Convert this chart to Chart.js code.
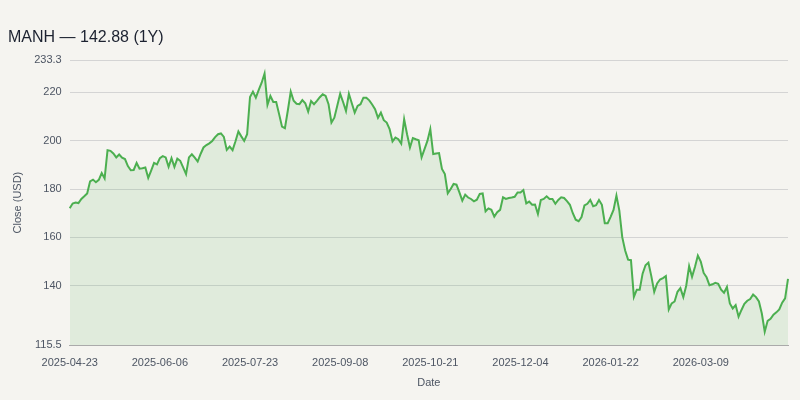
<!DOCTYPE html>
<html>
<head>
<meta charset="utf-8">
<script src="https://cdn.jsdelivr.net/npm/chart.js@4.4.1/dist/chart.umd.min.js"></script>
<style>
  html, body { margin: 0; padding: 0; background: #f5f4f0; }
  #wrap { width: 800px; height: 400px; position: relative; }
</style>
</head>
<body>
<div id="wrap"><canvas id="c" width="800" height="400"></canvas></div>
<script>
const ticker = "MANH";
const lastClose = 142.88;
const periodLabel = "1Y";

const dates = [
"2025-04-23","2025-04-24","2025-04-25","2025-04-28","2025-04-29","2025-04-30",
"2025-05-01","2025-05-02","2025-05-05","2025-05-06","2025-05-07","2025-05-08","2025-05-09",
"2025-05-12","2025-05-13","2025-05-14","2025-05-15","2025-05-16","2025-05-19","2025-05-20",
"2025-05-21","2025-05-22","2025-05-23","2025-05-27","2025-05-28","2025-05-29","2025-05-30",
"2025-06-02","2025-06-03","2025-06-04","2025-06-05","2025-06-06",
"2025-06-09","2025-06-10","2025-06-11","2025-06-12","2025-06-13","2025-06-16","2025-06-17",
"2025-06-18","2025-06-20","2025-06-23","2025-06-24","2025-06-25","2025-06-26","2025-06-27","2025-06-30",
"2025-07-01","2025-07-02","2025-07-03","2025-07-07","2025-07-08","2025-07-09","2025-07-10",
"2025-07-11","2025-07-14","2025-07-15","2025-07-16","2025-07-17","2025-07-18","2025-07-21",
"2025-07-22","2025-07-23",
"2025-07-24","2025-07-25","2025-07-28","2025-07-29","2025-07-30","2025-07-31",
"2025-08-01","2025-08-04","2025-08-05","2025-08-06","2025-08-07","2025-08-08","2025-08-11",
"2025-08-12","2025-08-13","2025-08-14","2025-08-15","2025-08-18","2025-08-19","2025-08-20",
"2025-08-21","2025-08-22","2025-08-25","2025-08-26","2025-08-27","2025-08-28",
"2025-09-02","2025-09-03","2025-09-04","2025-09-05","2025-09-08",
"2025-09-09","2025-09-10","2025-09-11","2025-09-12","2025-09-15","2025-09-16","2025-09-17",
"2025-09-18","2025-09-19","2025-09-22","2025-09-23","2025-09-24","2025-09-25","2025-09-26",
"2025-09-29","2025-09-30","2025-10-01","2025-10-02","2025-10-03","2025-10-06","2025-10-07",
"2025-10-08","2025-10-09","2025-10-10","2025-10-13","2025-10-14","2025-10-15","2025-10-16",
"2025-10-17","2025-10-20","2025-10-21",
"2025-10-22","2025-10-23","2025-10-24","2025-10-27","2025-10-28","2025-10-29","2025-10-30",
"2025-10-31","2025-11-03","2025-11-04","2025-11-05","2025-11-06","2025-11-07","2025-11-10",
"2025-11-11","2025-11-12","2025-11-13","2025-11-14","2025-11-17","2025-11-18","2025-11-19",
"2025-11-20","2025-11-21","2025-11-24","2025-11-25","2025-11-26","2025-11-28","2025-12-01",
"2025-12-02","2025-12-03","2025-12-04",
"2025-12-05","2025-12-08","2025-12-09","2025-12-10","2025-12-11","2025-12-12","2025-12-15",
"2025-12-16","2025-12-17","2025-12-18","2025-12-19","2025-12-22","2025-12-23","2025-12-24",
"2025-12-29","2025-12-30","2025-12-31","2026-01-02","2026-01-05","2026-01-06","2026-01-07",
"2026-01-08","2026-01-09","2026-01-12","2026-01-13","2026-01-14","2026-01-15","2026-01-16",
"2026-01-20","2026-01-21","2026-01-22",
"2026-01-23","2026-01-26","2026-01-27","2026-01-28","2026-01-29","2026-01-30","2026-02-02",
"2026-02-03","2026-02-04","2026-02-05","2026-02-06","2026-02-09","2026-02-10","2026-02-11",
"2026-02-12","2026-02-13","2026-02-17","2026-02-18","2026-02-19","2026-02-20","2026-02-23",
"2026-02-24","2026-02-25","2026-02-26","2026-02-27","2026-03-02","2026-03-03","2026-03-04",
"2026-03-05","2026-03-06","2026-03-09",
"2026-03-10","2026-03-11","2026-03-12","2026-03-13","2026-03-16","2026-03-17","2026-03-18",
"2026-03-19","2026-03-20","2026-03-23","2026-03-24","2026-03-25","2026-03-26","2026-03-27",
"2026-03-30","2026-03-31","2026-04-01","2026-04-02","2026-04-06","2026-04-07","2026-04-08",
"2026-04-09","2026-04-10","2026-04-13","2026-04-14","2026-04-15","2026-04-16","2026-04-17",
"2026-04-20","2026-04-21"
];

const closes = [
172.1,174.0,174.4,174.2,175.9,177.0,178.2,183.2,183.9,182.8,
183.8,186.6,184.4,196.1,195.8,194.7,193.1,194.3,193.0,192.4,
189.5,187.8,187.9,190.8,188.4,188.6,188.9,184.6,187.6,190.8,
190.2,192.8,193.6,193.1,189.2,192.8,189.2,192.6,191.7,189.0,
186.2,193.1,194.4,193.0,191.4,194.5,197.2,198.2,198.9,199.9,
201.5,202.7,203.0,201.6,196.2,197.6,196.1,199.8,203.8,201.8,
199.9,202.7,218.1,220.3,217.8,221.0,224.0,227.8,214.8,218.5,
216.0,216.0,211.0,205.8,205.2,212.5,220.3,216.5,215.3,215.1,
216.8,215.5,212.0,216.4,215.1,216.5,218.0,219.2,218.5,215.1,
207.5,209.5,214.5,219.4,216.0,212.3,219.4,215.5,211.6,214.4,
215.1,217.8,217.8,216.7,215.0,213.0,209.5,211.6,208.5,207.5,
204.8,199.7,201.3,200.6,198.8,208.9,202.7,197.2,201.1,200.6,
200.2,193.1,196.5,199.9,204.8,194.5,194.7,194.9,188.3,186.2,
178.2,180.0,182.1,181.8,178.6,175.2,177.7,176.5,175.9,174.9,
175.6,178.0,178.2,170.8,172.0,171.4,168.6,170.4,171.4,176.6,
175.9,176.3,176.5,176.8,178.6,178.6,179.6,174.1,174.8,173.5,
173.6,169.7,175.5,175.9,177.0,175.9,175.9,173.9,175.5,176.6,
176.3,175.0,173.5,170.0,167.3,166.7,168.4,173.2,173.9,175.5,
172.9,173.3,175.5,173.5,165.9,165.9,168.5,171.4,177.3,171.1,
160.1,154.6,150.8,150.6,135.4,138.4,138.4,145.0,148.5,149.6,
144.0,137.5,141.0,142.6,143.2,144.0,130.2,132.7,133.5,137.5,
139.0,135.3,140.0,148.1,143.7,147.8,152.5,150.0,145.3,143.5,
140.2,140.6,141.2,140.8,138.4,137.1,139.5,132.7,130.6,132.0,
127.2,130.0,132.5,133.8,134.5,136.4,135.3,133.5,128.5,121.0,
125.5,126.3,128.0,129.0,130.2,133.0,134.8,142.88
];

const yMin = 115.5;
const yMax = 233.3;
const yTicks = [115.5, 140, 160, 180, 200, 220, 233.3];

const FONT = "'Liberation Sans', Arial, Helvetica, sans-serif";

new Chart(document.getElementById('c'), {
  type: 'line',
  data: {
    labels: dates,
    datasets: [{
      label: 'Close',
      data: closes,
      borderColor: '#4caf50',
      backgroundColor: 'rgba(76,175,80,0.12)',
      borderWidth: 2,
      pointRadius: 0,
      tension: 0,
      fill: 'start'
    }]
  },
  options: {
    responsive: false,
    animation: false,
    layout: { padding: { left: 8, right: 12, top: 0, bottom: 0 } },
    plugins: {
      legend: { display: false },
      tooltip: { enabled: false },
      title: {
        display: true,
        text: ticker + ' \u2014 ' + lastClose.toFixed(2) + ' (' + periodLabel + ')',
        align: 'start',
        color: '#1c2230',
        font: { family: FONT, size: 16, weight: 'normal' },
        padding: { top: 28, bottom: 13 }
      }
    },
    scales: {
      x: {
        grid: { display: false, drawTicks: false },
        border: { display: true, color: '#aaaaaa', width: 1 },
        afterFit: (axis) => { axis.height = 55; },
        ticks: {
          color: '#4d5563',
          font: { family: FONT, size: 11 },
          maxRotation: 0,
          autoSkip: true,
          maxTicksLimit: 8,
          padding: 11
        },
        title: {
          display: true,
          text: 'Date',
          color: '#4d5563',
          font: { family: FONT, size: 11 },
          padding: { top: 0, bottom: 10 }
        }
      },
      y: {
        min: yMin,
        max: yMax,
        afterBuildTicks: (axis) => { axis.ticks = yTicks.map(v => ({ value: v })); },
        grid: { color: '#d4d4d4', lineWidth: 1, drawTicks: false },
        border: { display: false },
        ticks: {
          color: '#4d5563',
          font: { family: FONT, size: 11 },
          padding: 8,
          callback: (v) => String(v)
        },
        title: {
          display: true,
          text: 'Close (USD)',
          color: '#4d5563',
          font: { family: FONT, size: 11 },
          padding: { top: 3, bottom: 2 }
        }
      }
    }
  },
  plugins: [{
    id: 'bg',
    beforeDraw(chart) {
      const ctx = chart.ctx;
      ctx.save();
      ctx.fillStyle = '#f5f4f0';
      ctx.fillRect(0, 0, chart.width, chart.height);
      ctx.restore();
    }
  }]
});
</script>
</body>
</html>
